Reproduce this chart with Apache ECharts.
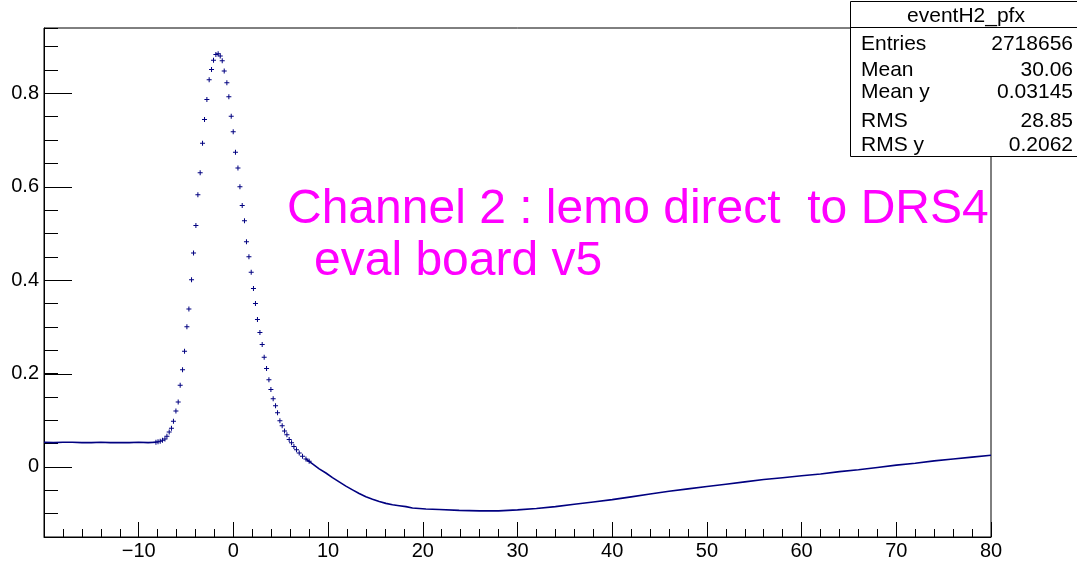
<!DOCTYPE html>
<html><head><meta charset="utf-8">
<script src="https://cdn.jsdelivr.net/npm/echarts@6/dist/echarts.min.js"></script>
<style>html,body{margin:0;padding:0;background:#fff}#c{width:1077px;height:561px}</style>
</head><body><div id="c"></div>
<script>
// ---- data ----
const baselineX = [-20,-19,-18,-17,-16,-15,-14,-13,-12,-11,-10,-9,-8.18];
const baselineY = [0.053,0.052,0.053,0.053,0.052,0.052,0.053,0.052,0.052,0.052,0.053,0.052,0.053];

const peakX = [-8.18,-7.96,-7.73,-7.49,-7.23,-7.02,-6.78,-6.54,-6.33,-6.07,-5.83,-5.62,-5.37,-5.16,-4.91,-4.70,-4.42,-4.21,-3.96,-3.75,-3.51,-3.26,-3.05,-2.80,-2.56,-2.31,-2.10,-1.85,-1.61,-1.39,-1.18,-0.97,-0.69,-0.48,-0.23,-0.02,0.22,0.48,0.69,0.93,1.17,1.38,1.64,1.88,2.12,2.33,2.54,2.80,3.04,3.25,3.50,3.75,3.96,4.20,4.45,4.66,4.91,5.15,5.40,5.65,5.89,6.14,6.39,6.66,6.95,7.30,7.66,8.00];
const peakY = [0.053,0.054,0.055,0.057,0.060,0.066,0.075,0.083,0.098,0.120,0.139,0.175,0.208,0.248,0.300,0.338,0.401,0.458,0.517,0.583,0.630,0.693,0.744,0.787,0.829,0.851,0.871,0.883,0.885,0.880,0.870,0.848,0.823,0.793,0.751,0.718,0.674,0.640,0.600,0.560,0.527,0.482,0.450,0.417,0.382,0.350,0.316,0.288,0.262,0.235,0.211,0.187,0.166,0.146,0.131,0.116,0.099,0.088,0.077,0.069,0.059,0.052,0.044,0.037,0.030,0.023,0.017,0.012];

const tailX = [7.66,8.00,8.53,9.06,9.77,10.46,11.17,11.88,12.58,13.28,13.99,14.69,15.40,16.10,16.80,17.51,18.22,18.91,20.33,21.73,23.84,26,28,30,32,34,36,38,40,42,44,46,48,50,52,54,56,58,60,62,64,66,68,70,72,74,76,78,80];
const tailY = [0.017,0.012,0.004,-0.004,-0.013,-0.023,-0.032,-0.041,-0.049,-0.057,-0.064,-0.069,-0.074,-0.078,-0.081,-0.083,-0.085,-0.088,-0.090,-0.091,-0.093,-0.094,-0.094,-0.092,-0.089,-0.085,-0.080,-0.075,-0.070,-0.064,-0.058,-0.052,-0.047,-0.042,-0.037,-0.032,-0.027,-0.023,-0.019,-0.015,-0.010,-0.006,-0.001,0.004,0.008,0.013,0.017,0.021,0.025];

const yMajorTicks = [0, 0.2, 0.4, 0.6, 0.8];
const statsTitle = 'eventH2_pfx';
const statsNames = ['Entries','Mean','Mean y','RMS','RMS y'];
const statsValues = ['2718656','30.06','0.03145','28.85','0.2062'];
const noteLines = ['Channel 2 : lemo direct  to DRS4', 'eval board v5'];

// ---- chart ----
const zip = (xs, ys) => xs.map((x, i) => [x, ys[i]]);
const NAVY = '#000080';
const FONT = 'Liberation Sans';
const chart = echarts.init(document.getElementById('c'), null, {renderer: 'canvas'});

const statsRowY = [44, 70, 92, 121, 145];
const graphic = [
  {type:'rect', z:100, shape:{x:850.5, y:1.5, width:240, height:155}, style:{fill:'#fff', stroke:'#000', lineWidth:1}},
  {type:'line', z:101, shape:{x1:850.5, y1:27.5, x2:1077, y2:27.5}, style:{stroke:'#000', lineWidth:1}},
  {type:'text', z:102, x:966, y:16, style:{text:statsTitle, font:'21px "'+FONT+'"', fill:'#000', align:'center', verticalAlign:'middle'}}
];
statsNames.forEach((n, i) => {
  graphic.push({type:'text', z:102, x:861, y:statsRowY[i], style:{text:n, font:'21px "'+FONT+'"', fill:'#000', align:'left', verticalAlign:'middle'}});
  graphic.push({type:'text', z:102, x:1073, y:statsRowY[i], style:{text:statsValues[i], font:'21px "'+FONT+'"', fill:'#000', align:'right', verticalAlign:'middle'}});
});
graphic.push({type:'text', z:50, x:287, y:210, style:{text:noteLines[0], font:'48px "'+FONT+'"', fill:'#ff00ff', align:'left', verticalAlign:'middle'}});
graphic.push({type:'text', z:50, x:314, y:262, style:{text:noteLines[1], font:'48px "'+FONT+'"', fill:'#ff00ff', align:'left', verticalAlign:'middle'}});

const option = {
  animation: false,
  backgroundColor: '#fff',
  grid: {left: 44, top: 28, width: 947, height: 513, show: true, borderColor: '#000', borderWidth: 1, backgroundColor: 'transparent'},
  xAxis: {
    type: 'value', min: -20, max: 80, interval: 10,
    axisLine: {show: true, onZero: false, lineStyle: {color: '#000', width: 1}},
    axisTick: {show: true, inside: true, length: 15, lineStyle: {color: '#000'}},
    minorTick: {show: true, splitNumber: 5, length: 8, lineStyle: {color: '#000'}},
    splitLine: {show: false},
    axisLabel: {show: true, showMaxLabel: true, showMinLabel: true, color: '#000', fontFamily: FONT, fontSize: 20, margin: 4,
      formatter: v => v === -20 ? '' : (v < 0 ? '\u2212' + Math.abs(v) : String(v))}
  },
  yAxis: {
    type: 'value', min: -0.15, max: 0.94, interval: 0.05,
    axisLine: {show: true, onZero: false, lineStyle: {color: '#000', width: 1}},
    axisTick: {show: true, inside: true, length: 14, lineStyle: {color: '#000'}},
    splitLine: {show: false},
    axisLabel: {show: true, color: '#000', fontFamily: FONT, fontSize: 20, margin: 5,
      formatter: v => {
        const k = v * 5;
        if (Math.abs(k - Math.round(k)) > 1e-6 || v > 0.9) return '';
        const r = Math.round(k) / 5;
        return r === 0 ? '0' : String(Number(r.toFixed(1)));
      }}
  },
  series: [
    {type: 'line', name: 'baseline', data: zip(baselineX, baselineY), showSymbol: false, symbol: 'none',
      lineStyle: {color: NAVY, width: 1.6}, silent: true, z: 3},
    {type: 'line', name: 'tail', data: zip(tailX, tailY), showSymbol: false, symbol: 'none',
      lineStyle: {color: NAVY, width: 1.6}, silent: true, z: 3},
    {type: 'scatter', name: 'peak', data: zip(peakX, peakY), symbol: 'path://M0,2H5V3H0Z M2,0H3V5H2Z', symbolSize: 5,
      itemStyle: {color: NAVY, opacity: 1}, silent: true, z: 4},
    {type: 'custom', name: 'yMajor', data: yMajorTicks.map(v => [-20, v]), silent: true, z: 5, clip: false,
      renderItem: (params, api) => {
        const p = api.coord([api.value(0), api.value(1)]);
        const y = Math.round(p[1]) + 0.5;
        return {type: 'line', shape: {x1: p[0], y1: y, x2: p[0] + 28, y2: y}, style: {stroke: '#000', lineWidth: 1}};
      }}
  ],
  graphic: graphic
};
chart.setOption(option);
</script>
</body></html>
